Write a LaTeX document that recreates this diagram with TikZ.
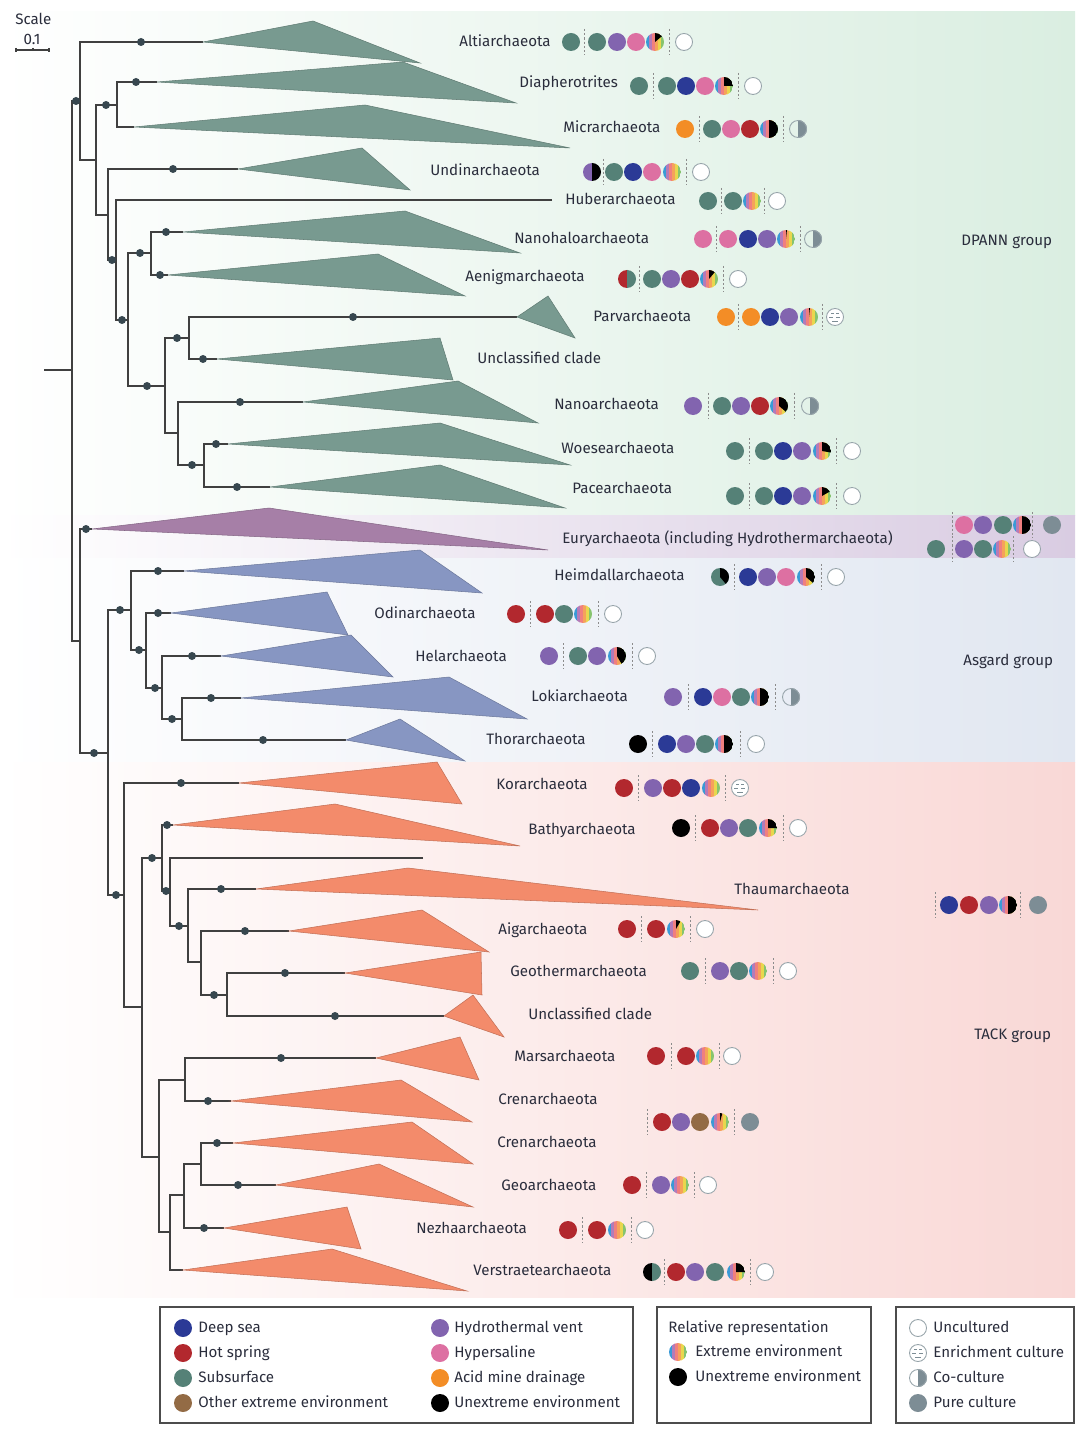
\documentclass[tikz,border=0pt]{standalone}
\usepackage{fontspec}
\setmainfont{Fira Sans}

\definecolor{deep}{HTML}{2B3A96}
\definecolor{hot}{HTML}{B2282E}
\definecolor{sub}{HTML}{558177}
\definecolor{oth}{HTML}{936B45}
\definecolor{hyd}{HTML}{8264AF}
\definecolor{hyp}{HTML}{DD70A2}
\definecolor{amd}{HTML}{F38D26}
\definecolor{pure}{HTML}{7D8D95}
\definecolor{bnodec}{HTML}{37474F}
\definecolor{bandG}{HTML}{DAEEE1}
\definecolor{bandP}{HTML}{D9CCE2}
\definecolor{bandB}{HTML}{E1E7F1}
\definecolor{bandR}{HTML}{F9D8D6}
\definecolor{triG}{HTML}{789A90}
\definecolor{triP}{HTML}{A67FA7}
\definecolor{triB}{HTML}{8796C2}
\definecolor{triR}{HTML}{F38B6B}
\definecolor{labc}{HTML}{2A2D3C}
\definecolor{st1}{HTML}{3A9AD6}
\definecolor{st2}{HTML}{B47BB8}
\definecolor{st3}{HTML}{F07F7F}
\definecolor{st4}{HTML}{F5A25B}
\definecolor{st5}{HTML}{E9D64E}
\definecolor{st6}{HTML}{86C46E}

\begin{document}
\begin{tikzpicture}[x=0.02cm,y=-0.02cm,
  branch/.style={draw=black!75,line width=0.6pt},
  lab/.style={anchor=base west,yshift=-2.7pt,inner sep=0pt,text=labc,font=\fontsize{8.6}{10}\selectfont},
  sepline/.style={draw=black!45,dash pattern=on 1.2pt off 1.2pt,line width=0.4pt},
  ring/.style={draw=pure!80,line width=0.5pt},
  legbox/.style={draw=black!70,line width=0.6pt}]
\useasboundingbox (0,0) rectangle (1080,1432);

% background bands
\shade[left color=white,right color=bandG] (0,12) rectangle (1075,515);
\shade[left color=white,right color=bandP] (0,515) rectangle (1075,558);
\shade[left color=white,right color=bandB] (0,558) rectangle (1075,762);
\shade[left color=white,right color=bandR] (0,762) rectangle (1075,1297);

\def\bn#1#2{\fill[bnodec] (#1,#2) circle[radius=4];}
\def\tri#1#2#3#4#5#6#7{\filldraw[fill=#1,draw=#1!80!black,line width=0.3pt] (#2,#3) -- (#4,#5) -- (#6,#7) -- cycle;}
\def\env#1#2#3{\fill[#3] (#1,#2) circle[radius=9];}
\def\halfc#1#2#3#4{\fill[#3] (#1,#2) -- ++(0,-9) arc[start angle=-90,end angle=-270,radius=9] -- cycle;
  \fill[#4] (#1,#2) -- ++(0,-9) arc[start angle=-90,end angle=90,radius=9] -- cycle;}
\def\pie#1#2#3#4{\fill[#3] (#1,#2) circle[radius=9];
  \fill[black] (#1,#2) -- ++(0,-9) arc[start angle=-90,end angle={-90+#4},radius=9] -- cycle;}
\def\ext#1#2#3{\begin{scope}
  \clip (#1,#2) circle[radius=9];
  \foreach \c [count=\i] in {st1,st2,st3,st4,st5,st6}
    \fill[\c] ({#1-9+3*(\i-1)},{#2-9}) rectangle ++(3.2,18);
  \ifnum#3>0 \fill[black] (#1,#2) -- ++(0,-9) arc[start angle=-90,end angle={-90+#3},radius=9] -- cycle;\fi
  \end{scope}}
\def\unc#1#2{\filldraw[fill=white,ring] (#1,#2) circle[radius=8.5];}
\def\coc#1#2{\fill[pure] (#1,#2) -- ++(0,-9) arc[start angle=-90,end angle=90,radius=9] -- cycle;
  \draw[ring] (#1,#2) circle[radius=8.5];}
\def\pur#1#2{\fill[pure] (#1,#2) circle[radius=9];}
\def\enr#1#2{\filldraw[fill=white,ring] (#1,#2) circle[radius=8.5];
  \draw[pure,line width=0.4pt] (#1-4,#2-4) -- (#1-1,#2-4) (#1+1,#2-4) -- (#1+4,#2-4)
    (#1-6,#2) -- (#1-2,#2) (#1+1,#2) -- (#1+5,#2) (#1-3,#2+4) -- (#1+3,#2+4);}
\def\sep#1#2{\draw[sepline] (#1,#2-13) -- (#1,#2+13);}

% scale
\node[lab] (scale) at (15,20) {Scale};
\node[lab,anchor=base] (sval) at (32,40) {0.1};
\draw[branch] (16,50) -- (49,50) (16,48) -- (16,52) (49,48) -- (49,52) (33,48) -- (33,50);

% tree
\draw[branch] (44,370) -- (72,370);
\draw[branch] (80,101) -| (72,641) -- (80,641);
\draw[branch] (203,42) -| (80,160) -- (96,160);
\draw[branch] (117,105) -| (96,215) -- (108,215);
\draw[branch] (157,82) -| (117,127) -- (134,127);
\draw[branch] (238,169) -| (108,260) -- (116,260);
\draw[branch] (552,200) -| (116,320) -- (128,320);
\draw[branch] (151,253) -| (128,386) -- (165,386);
\draw[branch] (183,232) -| (151,275) -- (168,275);
\draw[branch] (189,338) -| (165,433) -- (178,433);
\draw[branch] (517,317) -| (189,359) -- (217,359);
\draw[branch] (303,402) -| (178,465) -- (204,465);
\draw[branch] (228,444) -| (204,487) -- (270,487);
\draw[branch] (92,529) -| (80,753) -- (108,753);
\draw[branch] (131,610) -| (108,895) -- (124,895);
\draw[branch] (184,571) -| (131,650) -- (146,650);
\draw[branch] (171,613) -| (146,688) -- (162,688);
\draw[branch] (221,656) -| (162,719) -- (182,719);
\draw[branch] (241,698) -| (182,740) -- (346,740);
\draw[branch] (239,783) -| (124,1007) -- (142,1007);
\draw[branch] (162,858) -| (142,1157) -- (159,1157);
\draw[branch] (173,825) -| (162,891) -- (170,891);
\draw[branch] (423,858) -| (170,926) -- (188,926);
\draw[branch] (256,889) -| (188,962) -- (201,962);
\draw[branch] (289,931) -| (201,995) -- (227,995);
\draw[branch] (345,973) -| (227,1016) -- (444,1016);
\draw[branch] (185,1080) -| (159,1232) -- (170,1232);
\draw[branch] (376,1058) -| (185,1101) -- (231,1101);
\draw[branch] (184,1195) -| (170,1270) -- (183,1270);
\draw[branch] (201,1164) -| (184,1228) -- (224,1228);
\draw[branch] (233,1143) -| (201,1185) -- (276,1185);

% collapsed clades
\tri{triG}{203}{42}{313}{21}{420}{63}
\tri{triG}{157}{82}{403}{62}{516}{103}
\tri{triG}{134}{127}{365}{105}{570}{148}
\tri{triG}{238}{169}{362}{148}{410}{190}
\tri{triG}{183}{232}{405}{211}{520}{253}
\tri{triG}{168}{275}{378}{254}{465}{296}
\tri{triG}{517}{317}{548}{296}{575}{338}
\tri{triG}{217}{359}{440}{338}{453}{380}
\tri{triG}{303}{402}{458}{381}{538}{423}
\tri{triG}{228}{444}{440}{423}{570}{465}
\tri{triG}{270}{487}{440}{465}{565}{508}
\tri{triP}{92}{529}{269}{508}{548}{550}
\tri{triB}{184}{571}{420}{550}{482}{593}
\tri{triB}{171}{613}{327}{592}{348}{635}
\tri{triB}{221}{656}{351}{635}{393}{677}
\tri{triB}{241}{698}{449}{677}{527}{719}
\tri{triB}{346}{740}{400}{719}{465}{761}
\tri{triR}{239}{783}{437}{762}{462}{804}
\tri{triR}{173}{825}{335}{804}{520}{846}
\tri{triR}{256}{889}{408}{868}{758}{910}
\tri{triR}{289}{931}{422}{910}{489}{952}
\tri{triR}{345}{973}{481}{952}{482}{995}
\tri{triR}{444}{1016}{473}{995}{504}{1037}
\tri{triR}{376}{1058}{460}{1037}{479}{1080}
\tri{triR}{231}{1101}{401}{1080}{472}{1122}
\tri{triR}{233}{1143}{412}{1122}{473}{1164}
\tri{triR}{276}{1185}{379}{1164}{473}{1207}
\tri{triR}{224}{1228}{347}{1207}{361}{1249}
\tri{triR}{183}{1270}{332}{1249}{467}{1291}

% supported nodes
\bn{76}{101} \bn{141}{42} \bn{106}{105} \bn{136}{82} \bn{173}{169} \bn{112}{260}
\bn{122}{320} \bn{140}{253} \bn{166}{232} \bn{160}{275} \bn{147}{386} \bn{177}{338}
\bn{353}{317} \bn{203}{359} \bn{240}{402} \bn{192}{465} \bn{216}{444} \bn{237}{487}
\bn{86}{529} \bn{94}{753} \bn{120}{610} \bn{158}{571} \bn{139}{650} \bn{158}{613}
\bn{155}{688} \bn{192}{656} \bn{172}{719} \bn{211}{698} \bn{263}{740}
\bn{116}{895} \bn{181}{783} \bn{152}{858} \bn{167}{825} \bn{166}{891} \bn{179}{926}
\bn{221}{889} \bn{245}{931} \bn{214}{995} \bn{285}{973} \bn{335}{1016} \bn{281}{1058}
\bn{208}{1101} \bn{217}{1143} \bn{238}{1185} \bn{204}{1228}

% lineage labels
\node[lab] (alti) at (459,42) {Altiarchaeota};
\node[lab] (diaph) at (519,83) {Diapherotrites};
\node[lab] (micr) at (563,128) {Micrarchaeota};
\node[lab] (undin) at (430,171) {Undinarchaeota};
\node[lab] (huber) at (565,200) {Huberarchaeota};
\node[lab] (nanoh) at (514,239) {Nanohaloarchaeota};
\node[lab] (aenig) at (465,277) {Aenigmarchaeota};
\node[lab] (parv) at (593,317) {Parvarchaeota};
\node[lab] (uncla) at (477,359) {Unclassified clade};
\node[lab] (nano) at (554,405) {Nanoarchaeota};
\node[lab] (woese) at (561,449) {Woesearchaeota};
\node[lab] (pace) at (572,489) {Pacearchaeota};
\node[lab] (dpann) at (961,241) {DPANN group};
\node[lab] (eury) at (562,539) {Euryarchaeota (including Hydrothermarchaeota)};
\node[lab] (heim) at (554,576) {Heimdallarchaeota};
\node[lab] (odin) at (374,614) {Odinarchaeota};
\node[lab] (hel) at (415,657) {Helarchaeota};
\node[lab] (loki) at (531,697) {Lokiarchaeota};
\node[lab] (thor) at (486,740) {Thorarchaeota};
\node[lab] (asgard) at (963,661) {Asgard group};
\node[lab] (kor) at (496,785) {Korarchaeota};
\node[lab] (bathy) at (528,830) {Bathyarchaeota};
\node[lab] (thaum) at (734,890) {Thaumarchaeota};
\node[lab] (aig) at (498,930) {Aigarchaeota};
\node[lab] (geoth) at (510,972) {Geothermarchaeota};
\node[lab] (unclb) at (528,1015) {Unclassified clade};
\node[lab] (mars) at (514,1057) {Marsarchaeota};
\node[lab] (crena) at (498,1100) {Crenarchaeota};
\node[lab] (crenb) at (497,1143) {Crenarchaeota};
\node[lab] (geoa) at (501,1186) {Geoarchaeota};
\node[lab] (nezha) at (416,1229) {Nezhaarchaeota};
\node[lab] (verst) at (473,1271) {Verstraetearchaeota};
\node[lab] (tack) at (974,1035) {TACK group};

% environments and culture status
\env{571}{42}{sub} \sep{584}{42} \env{597}{42}{sub} \env{617}{42}{hyd} \env{636}{42}{hyp} \ext{655}{42}{50} \sep{669}{42} \unc{684}{42}
\env{639}{86}{sub} \sep{653}{86} \env{667}{86}{sub} \env{686}{86}{deep} \env{705}{86}{hyp} \ext{724}{86}{90} \sep{738}{86} \unc{753}{86}
\env{685}{129}{amd} \sep{699}{129} \env{712}{129}{sub} \env{731}{129}{hyp} \env{750}{129}{hot} \ext{769}{129}{180} \sep{783}{129} \coc{798}{129}
\halfc{592}{172}{hyd}{black} \sep{603}{172} \env{614}{172}{sub} \env{633}{172}{deep} \env{652}{172}{hyp} \ext{672}{172}{0} \sep{686}{172} \unc{701}{172}
\env{708}{201}{sub} \sep{721}{201} \env{733}{201}{sub} \ext{752}{201}{0} \sep{764}{201} \unc{777}{201}
\env{703}{239}{hyp} \sep{716}{239} \env{728}{239}{hyp} \env{748}{239}{deep} \env{767}{239}{hyd} \ext{786}{239}{6} \sep{800}{239} \coc{813}{239}
\halfc{627}{279}{hot}{sub} \sep{639}{279} \env{652}{279}{sub} \env{671}{279}{hyd} \env{690}{279}{hot} \ext{709}{279}{40} \sep{723}{279} \unc{738}{279}
\env{726}{317}{amd} \sep{738}{317} \env{751}{317}{amd} \env{770}{317}{deep} \env{789}{317}{hyd} \ext{809}{317}{6} \sep{822}{317} \enr{835}{317}
\env{693}{406}{hyd} \sep{708}{406} \env{722}{406}{sub} \env{741}{406}{hyd} \env{760}{406}{hot} \ext{779}{406}{130} \sep{794}{406} \coc{810}{406}
\env{735}{451}{sub} \sep{749}{451} \env{764}{451}{sub} \env{783}{451}{deep} \env{802}{451}{hyd} \ext{822}{451}{100} \sep{836}{451} \unc{852}{451}
\env{735}{496}{sub} \sep{749}{496} \env{764}{496}{sub} \env{783}{496}{deep} \env{802}{496}{hyd} \ext{822}{496}{60} \sep{836}{496} \unc{852}{496}
\sep{952}{525} \env{964}{525}{hyp} \env{983}{525}{hyd} \env{1003}{525}{sub} \ext{1022}{525}{180} \sep{1032}{525} \pur{1052}{525}
\env{936}{549}{sub} \sep{952}{549} \env{964}{549}{hyd} \env{983}{549}{sub} \ext{1002}{549}{0} \sep{1013}{549} \unc{1032}{549}
\pie{720}{577}{sub}{140} \sep{734}{577} \env{748}{577}{deep} \env{767}{577}{hyd} \env{786}{577}{hyp} \ext{806}{577}{130} \sep{821}{577} \unc{836}{577}
\env{516}{614}{hot} \sep{530}{614} \env{545}{614}{hot} \env{564}{614}{sub} \ext{583}{614}{0} \sep{598}{614} \unc{613}{614}
\env{549}{656}{hyd} \sep{563}{656} \env{578}{656}{sub} \env{597}{656}{hyd} \ext{617}{656}{150} \sep{632}{656} \unc{647}{656}
\env{673}{697}{hyd} \sep{688}{697} \env{703}{697}{deep} \env{722}{697}{hyp} \env{741}{697}{sub} \ext{760}{697}{180} \sep{775}{697} \coc{791}{697}
\env{638}{744}{black} \sep{652}{744} \env{667}{744}{deep} \env{686}{744}{hyd} \env{705}{744}{sub} \ext{724}{744}{180} \sep{740}{744} \unc{756}{744}
\env{624}{788}{hot} \sep{638}{788} \env{653}{788}{hyd} \env{672}{788}{hot} \env{691}{788}{deep} \ext{711}{788}{0} \sep{725}{788} \enr{740}{788}
\env{681}{828}{black} \sep{695}{828} \env{710}{828}{hot} \env{729}{828}{hyd} \env{748}{828}{sub} \ext{768}{828}{90} \sep{783}{828} \unc{798}{828}
\sep{935}{905} \env{949}{905}{deep} \env{969}{905}{hot} \env{989}{905}{hyd} \ext{1008}{905}{180} \sep{1020}{905} \pur{1038}{905}
\env{627}{929}{hot} \sep{641}{929} \env{656}{929}{hot} \ext{676}{929}{30} \sep{690}{929} \unc{705}{929}
\env{690}{971}{sub} \sep{705}{971} \env{720}{971}{hyd} \env{739}{971}{sub} \ext{758}{971}{0} \sep{773}{971} \unc{788}{971}
\env{656}{1056}{hot} \sep{671}{1056} \env{686}{1056}{hot} \ext{705}{1056}{0} \sep{719}{1056} \unc{732}{1056}
\sep{647}{1122} \env{662}{1122}{hot} \env{681}{1122}{hyd} \env{700}{1122}{oth} \ext{720}{1122}{15} \sep{734}{1122} \pur{750}{1122}
\env{632}{1185}{hot} \sep{646}{1185} \env{661}{1185}{hyd} \ext{680}{1185}{0} \sep{694}{1185} \unc{708}{1185}
\env{568}{1230}{hot} \sep{582}{1230} \env{597}{1230}{hot} \ext{617}{1230}{0} \sep{631}{1230} \unc{645}{1230}
\halfc{652}{1272}{black}{sub} \sep{664}{1272} \env{676}{1272}{hot} \env{695}{1272}{hyd} \env{715}{1272}{sub} \ext{736}{1272}{90} \sep{750}{1272} \unc{765}{1272}

% legend
\draw[legbox] (160,1307) rectangle (633,1423);
\env{183}{1328}{deep} \node[lab] (ldeep) at (198,1328) {Deep sea};
\env{183}{1353}{hot} \node[lab] (lhot) at (198,1353) {Hot spring};
\env{183}{1378}{sub} \node[lab] (lsub) at (198,1378) {Subsurface};
\env{183}{1403}{oth} \node[lab] (loth) at (198,1403) {Other extreme environment};
\env{440}{1328}{hyd} \node[lab] (lhyd) at (454,1328) {Hydrothermal vent};
\env{440}{1353}{hyp} \node[lab] (lhyp) at (454,1353) {Hypersaline};
\env{440}{1378}{amd} \node[lab] (lamd) at (454,1378) {Acid mine drainage};
\env{440}{1403}{black} \node[lab] (lune) at (454,1403) {Unextreme environment};
\draw[legbox] (657,1307) rectangle (871,1423);
\node[lab] (lrel) at (668,1328) {Relative representation};
\ext{678}{1352}{0} \node[lab] (lext) at (695,1352) {Extreme environment};
\env{678}{1377}{black} \node[lab] (lunx) at (695,1377) {Unextreme environment};
\draw[legbox] (896,1307) rectangle (1074,1423);
\unc{918}{1328} \node[lab] (lunc) at (933,1328) {Uncultured};
\enr{918}{1353} \node[lab] (lenr) at (933,1353) {Enrichment culture};
\coc{918}{1378} \node[lab] (lcoc) at (933,1378) {Co-culture};
\pur{918}{1403} \node[lab] (lpur) at (933,1403) {Pure culture};
\end{tikzpicture}
\end{document}
